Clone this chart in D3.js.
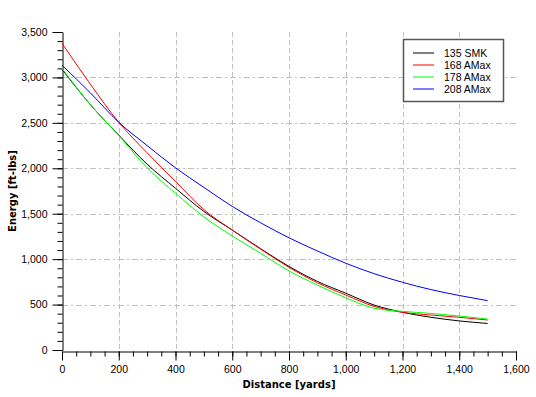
<!DOCTYPE html>
<html>
<head>
<meta charset="utf-8">
<script src="https://cdn.jsdelivr.net/npm/d3@7"></script>
<style>
	body { margin: 0; background: #fff; }
	text { font-family: "Liberation Sans", Arial, sans-serif; }
	.title { font-family: "DejaVu Sans", sans-serif; font-weight: bold; font-size: 10px; }
</style>
</head>
<body>
<svg width="536" height="397"></svg>
<script>
var distance = [0, 100, 200, 300, 400, 500, 600, 700, 800, 900, 1000, 1100, 1200, 1300, 1400, 1500];
var smk135 = [3090, 2700, 2365, 2045, 1780, 1525, 1320, 1115, 920, 755, 625, 495, 415, 360, 320, 292];
var amax168 = [3375, 2925, 2506, 2170, 1855, 1545, 1320, 1110, 910, 740, 605, 480, 415, 385, 360, 330];
var amax178 = [3100, 2700, 2360, 2005, 1725, 1465, 1255, 1064, 870, 715, 575, 460, 425, 403, 374, 341];
var amax208 = [3135, 2830, 2506, 2250, 2005, 1790, 1580, 1400, 1235, 1090, 955, 840, 745, 665, 600, 543];
var seriesNames = ["135 SMK", "168 AMax", "178 AMax", "208 AMax"];
var seriesColors = ["#000000", "#ff0000", "#00ff00", "#0000ff"];
var xTicks = [0, 200, 400, 600, 800, 1000, 1200, 1400, 1600];
var yTicks = [0, 500, 1000, 1500, 2000, 2500, 3000, 3500];

var plotLeft = 62, plotRight = 516, plotTop = 32, plotBottom = 350;
var svg = d3.select("svg");

var x = d3.scaleLinear().domain([0, 1600]).range([plotLeft, plotRight]);
var y = d3.scaleLinear().domain([0, 3500]).range([plotBottom, plotTop]);

// grid
svg.selectAll("line.vgrid")
	.data(xTicks.slice(1, -1))
	.enter().append("line").classed("vgrid", true)
	.attr("x1", d => Math.round(x(d)) + 0.5).attr("x2", d => Math.round(x(d)) + 0.5)
	.attr("y1", plotTop).attr("y2", plotBottom)
	.attr("stroke", "#c0c0c0").attr("stroke-dasharray", "5,3");

svg.selectAll("line.hgrid")
	.data(yTicks.slice(1, -1))
	.enter().append("line").classed("hgrid", true)
	.attr("y1", d => Math.round(y(d)) + 0.5).attr("y2", d => Math.round(y(d)) + 0.5)
	.attr("x1", plotLeft).attr("x2", plotRight)
	.attr("stroke", "#c0c0c0").attr("stroke-dasharray", "6,3,2,3");

// axes
var yMinor = d3.range(0, 3501, 100);
var xMinor = d3.range(0, 1601, 50);

svg.append("g")
	.attr("transform", "translate(" + (plotLeft + 0.5) + ",0)")
	.call(d3.axisLeft(y).tickValues(yMinor).tickSize(5).tickFormat(""))
	.call(g => g.select(".domain").remove());
svg.append("g")
	.attr("transform", "translate(" + (plotLeft + 0.5) + ",0)")
	.call(d3.axisLeft(y).tickValues(yTicks).tickSize(10).tickSizeOuter(0).tickPadding(5).tickFormat(d3.format(",")))
	.call(g => g.selectAll("text").style("font-size", "10.5px").attr("fill", "#000"));

svg.append("g")
	.attr("transform", "translate(0," + (plotBottom + 1.5) + ")")
	.call(d3.axisBottom(x).tickValues(xMinor).tickSize(5).tickFormat(""))
	.call(g => g.select(".domain").remove());
svg.append("g")
	.attr("transform", "translate(0," + (plotBottom + 1.5) + ")")
	.call(d3.axisBottom(x).tickValues(xTicks).tickSize(9).tickSizeOuter(0).tickPadding(5).tickFormat(d3.format(",")))
	.call(g => g.selectAll("text").style("font-size", "10.5px").attr("fill", "#000"));

svg.append("text").classed("title", true)
	.attr("x", (plotLeft + plotRight) / 2).attr("y", 388)
	.attr("text-anchor", "middle")
	.text("Distance [yards]");

svg.append("text").classed("title", true)
	.attr("transform", "translate(16," + (plotTop + plotBottom) / 2 + ") rotate(-90)")
	.attr("text-anchor", "middle")
	.text("Energy [ft-lbs]");

// series
var series = [smk135, amax168, amax178, amax208];
var line = d3.line()
	.x((d, i) => x(distance[i]))
	.y(d => y(d))
	.curve(d3.curveMonotoneX);

svg.selectAll("path.series")
	.data(series)
	.enter().append("path").classed("series", true)
	.attr("d", d => line(d))
	.attr("fill", "none")
	.attr("stroke", (d, i) => seriesColors[i])
	.attr("stroke-width", 1);

// legend
var legend = svg.append("g");
legend.append("rect")
	.attr("x", 403.5).attr("y", 39.5).attr("width", 100).attr("height", 62)
	.attr("fill", "#fff").attr("stroke", "#555").attr("stroke-width", 1.5);

var rows = legend.selectAll("g.row")
	.data(seriesNames)
	.enter().append("g").classed("row", true)
	.attr("transform", (d, i) => "translate(0," + (53 + i * 12) + ")");

rows.append("line")
	.attr("x1", 413).attr("x2", 434)
	.attr("stroke", (d, i) => seriesColors[i])
	.attr("stroke-width", 2).attr("stroke-opacity", 0.5);

rows.append("text")
	.attr("x", 444).attr("y", 3.5)
	.style("font-size", "10.5px")
	.text(d => d);
</script>
</body>
</html>
